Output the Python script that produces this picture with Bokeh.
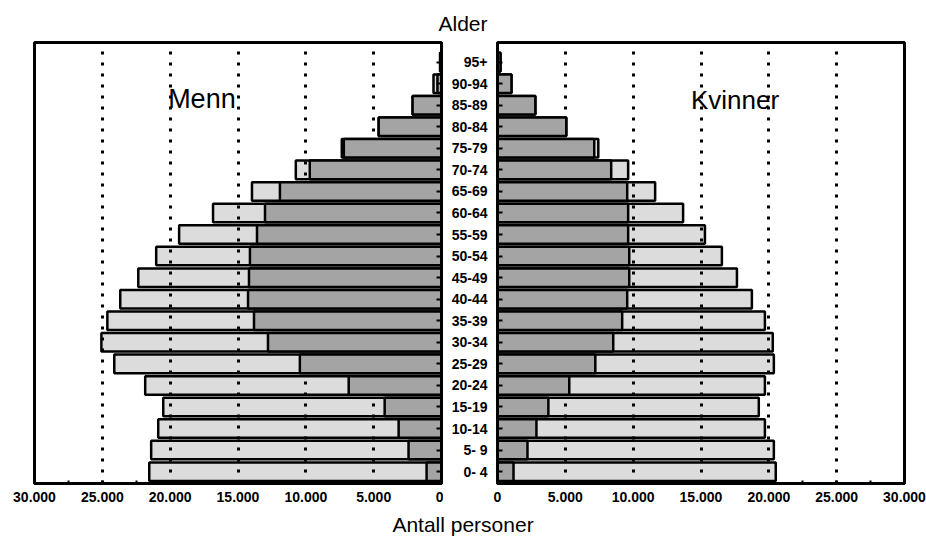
from bokeh.plotting import figure
from bokeh.models import Range1d, FixedTicker, Label, Div
from bokeh.layouts import row, column
from bokeh.embed import file_html
from bokeh.resources import INLINE

# ---------------- data ----------------
ages = ["0- 4", "5- 9", "10-14", "15-19", "20-24", "25-29", "30-34", "35-39",
        "40-44", "45-49", "50-54", "55-59", "60-64", "65-69", "70-74", "75-79",
        "80-84", "85-89", "90-94", "95+"]
men_total = [21540, 21400, 20880, 20510, 21840, 24120, 25070, 24630, 23680, 22350,
             21030, 19340, 16840, 13970, 10740, 7350, 4630, 2130, 590, 100]
men_inner = [1100, 2430, 3160, 4190, 6840, 10440, 12790, 13820, 14260, 14190,
             14120, 13600, 13010, 11910, 9710, 7200, 4630, 2130, 300, 100]
women_total = [20510, 20370, 19710, 19260, 19710, 20370, 20290, 19710, 18750, 17650,
               16540, 15290, 13680, 11620, 9630, 7430, 5070, 2790, 1030, 220]
women_inner = [1180, 2210, 2870, 3750, 5290, 7210, 8530, 9190, 9560, 9710,
               9710, 9630, 9630, 9560, 8380, 7130, 5070, 2790, 1030, 220]
x_ticks = [0, 5000, 10000, 15000, 20000, 25000, 30000]
x_tick_labels = ["0", "5.000", "10.000", "15.000", "20.000", "25.000", "30.000"]

# ---------------- style ----------------
FONT = "Liberation Sans"
LIGHT = "#dcdcdc"
DARK = "#a4a4a4"
ypos = list(range(len(ages)))
minor = [t + 2500 for t in x_ticks[:-1]]


def make_panel(x_range, yloc, total, inner, mb_left, mb_right, show_age_labels):
    p = figure(frame_width=407, frame_height=441, x_range=x_range,
               y_range=Range1d(-0.55, 19.91), y_axis_location=yloc,
               output_backend="svg", toolbar_location=None, title=None,
               min_border_left=mb_left, min_border_right=mb_right,
               min_border_top=4, min_border_bottom=26)
    p.background_fill_color = "white"
    p.border_fill_color = "white"
    p.outline_line_color = "black"
    p.outline_line_width = 3

    light = p.hbar(y=ypos, left=0, right=total, height=0.86,
                   fill_color=LIGHT, line_color="black", line_width=2.5)
    light.level = "image"
    p.hbar(y=ypos, left=0, right=inner, height=0.86,
           fill_color=DARK, line_color="black", line_width=2.5)

    # x axis
    xa = p.xaxis[0]
    xa.ticker = FixedTicker(ticks=x_ticks, minor_ticks=minor)
    xa.major_label_overrides = {t: l for t, l in zip(x_ticks, x_tick_labels)}
    xa.major_label_text_font = FONT
    xa.major_label_text_font_style = "bold"
    xa.major_label_text_font_size = "14px"
    xa.major_label_text_color = "black"
    xa.major_label_standoff = 8
    xa.axis_line_width = 3
    xa.major_tick_in = 3
    xa.major_tick_out = 0
    xa.minor_tick_in = 3
    xa.minor_tick_out = 0
    xa.major_tick_line_width = 2
    xa.minor_tick_line_width = 2

    # grid
    p.ygrid.visible = False
    p.xgrid.grid_line_color = "black"
    p.xgrid.grid_line_width = 3
    p.xgrid.grid_line_dash = "3 8"

    # y axis (inner side)
    ya = p.yaxis[0]
    ya.ticker = FixedTicker(ticks=ypos, minor_ticks=[])
    ya.axis_line_width = 3
    ya.major_tick_in = 5
    ya.major_tick_out = 0
    ya.major_tick_line_width = 2
    ya.minor_tick_in = 0
    ya.minor_tick_out = 0
    if show_age_labels:
        ya.major_label_overrides = {i: a for i, a in zip(ypos, ages)}
        ya.major_label_text_font = FONT
        ya.major_label_text_font_style = "bold"
        ya.major_label_text_font_size = "14px"
        ya.major_label_text_color = "black"
        ya.major_label_standoff = 10
    else:
        ya.major_label_overrides = {i: "" for i in ypos}
        ya.major_label_text_font_size = "0px"
        ya.major_label_standoff = 0
    return p


left = make_panel(Range1d(30000, 0), "right", men_total, men_inner, 34, 2, False)
right = make_panel(Range1d(0, 30000), "left", women_total, women_inner, 54, 22, True)

left.add_layout(Label(x=20150, y=17.29, text="Menn", text_font=FONT,
                      text_font_size="27px", text_align="left",
                      text_color="black", text_baseline="middle"))
right.add_layout(Label(x=14260, y=17.25, text="Kvinner", text_font=FONT,
                       text_font_size="26px", text_align="left",
                       text_color="black", text_baseline="middle"))

top = Div(text=("<div style=\"font-family:'Liberation Sans';font-size:21px;"
                "line-height:22px;padding-top:13px;padding-left:12px;"
                "text-align:center;width:914px;color:black;\">Alder</div>"),
          width=926, height=38, margin=(0, 0, 0, 0))
bottom = Div(text=("<div style=\"font-family:'Liberation Sans';font-size:21px;"
                   "line-height:22px;padding-top:5px;padding-left:14px;"
                   "text-align:center;width:912px;color:black;\">Antall personer</div>"),
             width=926, height=29, margin=(0, 0, 0, 0))

layout = column(top, row(left, right, spacing=0), bottom, spacing=0)

with open("out.html", "w") as f:
    f.write(file_html(layout, INLINE))
